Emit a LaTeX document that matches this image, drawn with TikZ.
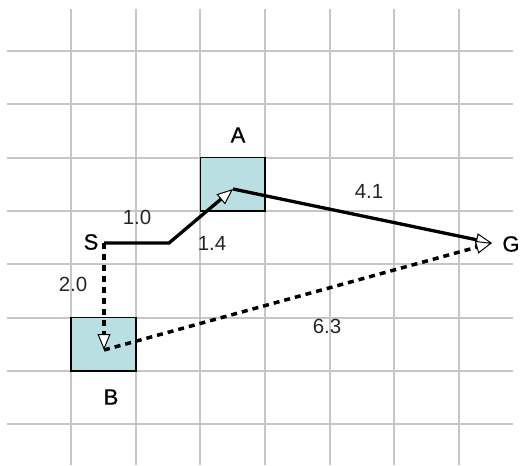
\documentclass[tikz,border=0pt]{standalone}
\usepackage{fontspec}
\setmainfont{Liberation Sans}
\newfontfamily\lblfont[FakeBold=0.6]{Liberation Sans}
\usetikzlibrary{arrows.meta}
\definecolor{gridgray}{HTML}{C6C6C6}
\definecolor{boxfill}{HTML}{BADFE3}
\tikzset{
  gridline/.style={draw=gridgray, line width=2pt},
  cell/.style={draw=black, line width=1.6pt, fill=boxfill, minimum width=64.7pt, minimum height=53.3pt, inner sep=0pt, outer sep=0pt},
  lbl/.style={font=\lblfont\fontsize{22}{22}\selectfont, inner sep=0pt},
  num/.style={font=\fontsize{20.5}{20.5}\selectfont, text=black!85, inner sep=0pt},
  tip/.style={-{Triangle[fill=white, length=16pt, width=13pt, line width=1pt]}},
  solidpath/.style={line width=3.3pt, tip},
  dotpath/.style={line width=3.5pt, dash pattern=on 6pt off 5pt, tip},
}
\begin{document}
\begin{tikzpicture}[x=1pt, y=-1pt]
\useasboundingbox (0,0) rectangle (521,465);
% grid
\foreach \i in {0,...,6} { \draw[gridline] (71+64.67*\i, 9) -- (71+64.67*\i, 465); }
\foreach \j in {0,...,7} { \draw[gridline] (7, 51+53.33*\j) -- (513, 51+53.33*\j); }
% boxes
\node[cell] (A) at (232.65, 184.3) {};
\node[cell] (B) at (103.35, 344.3) {};
% points
\coordinate (S) at (104,243);
\coordinate (K) at (169,243);
\coordinate (Ap) at (233,189);
\coordinate (G) at (492,243);
\coordinate (Bp) at (104,350);
% labels
\node[lbl] (Sl) at (91,242) {S};
\node[lbl] (Al) at (238,135) {A};
\node[lbl] (Bl) at (111,397) {B};
\node[lbl] (Gl) at (511,244) {G};
\node[num] (n10) at (137,217) {1.0};
\node[num] (n14) at (212,243) {1.4};
\node[num] (n41) at (369,191) {4.1};
\node[num] (n20) at (73,284) {2.0};
\node[num] (n63) at (327,326) {6.3};
% paths
\draw[solidpath] (S) -- (K) -- (Ap);
\draw[solidpath] (Ap) -- (G);
\draw[dotpath] (S) -- (Bp);
\draw[dotpath] (Bp) -- (G);
\end{tikzpicture}
\end{document}
